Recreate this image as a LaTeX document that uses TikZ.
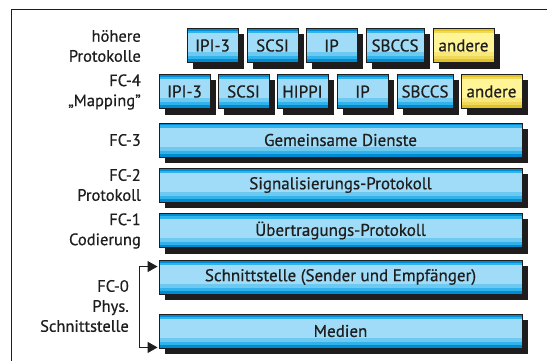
\documentclass[tikz,border=0pt]{standalone}
\usepackage{fontspec}
\setmainfont{PT Sans}[FakeBold=0.6]
\usepackage{tikz}
\usetikzlibrary{shapes,arrows,arrows.meta,positioning,calc}
\definecolor{bluedark}{RGB}{0,140,210}
\definecolor{bluemid}{RGB}{50,178,235}
\definecolor{bluelight}{RGB}{160,220,247}
\definecolor{yellowdark}{RGB}{225,195,40}
\definecolor{yellowlight}{RGB}{255,244,150}
\definecolor{textgray}{RGB}{30,30,30}
\definecolor{shadegray}{RGB}{30,28,28}
% darker bands at the top and the bottom of a box
\newcommand{\barbands}[3]{
  \fill[#1] (path picture bounding box.north west) rectangle ($(path picture bounding box.north east)+(0,2.5)$);
  \fill[#2] ($(path picture bounding box.north west)+(0,2.5)$) rectangle ($(path picture bounding box.north east)+(0,5)$);
  \fill[#3] ($(path picture bounding box.south west)+(0,-10)$) rectangle ($(path picture bounding box.south east)+(0,-6)$);
  \fill[#2] ($(path picture bounding box.south west)+(0,-6)$) rectangle ($(path picture bounding box.south east)+(0,-3)$);
  \fill[#1] ($(path picture bounding box.south west)+(0,-3)$) rectangle (path picture bounding box.south east);}
\tikzstyle{boxbase}=[rectangle, inner sep=0pt, line width=0.9pt, text=textgray, font=\fontsize{17}{19}\selectfont, minimum height=34pt]
\tikzstyle{smallbox}=[boxbase, minimum width=51pt]
\tikzstyle{otherbox}=[boxbase, minimum width=61pt]
\tikzstyle{widebox}=[boxbase, minimum width=363pt]
\tikzstyle{bluefill}=[draw=textgray, fill=bluelight, path picture={\barbands{bluedark}{bluemid}{bluemid!45!bluelight}}]
\tikzstyle{yellowfill}=[draw=textgray, fill=yellowlight, path picture={\barbands{yellowdark}{yellowdark!55!yellowlight}{yellowdark!25!yellowlight}}]
\tikzstyle{boxshade}=[fill=shadegray]
\tikzstyle{layerlabel}=[anchor=east, align=right, inner sep=0pt, text=textgray, font=\fontsize{16.5}{20}\selectfont]
% shadow right of and below a box, drawn next to it
\newcommand{\boxshadow}[1]{
  \fill[boxshade] ($(#1.north east)+(0.4,6)$) rectangle ($(#1.south east)+(6,6)$);
  \fill[boxshade] ($(#1.south west)+(6,0.4)$) rectangle ($(#1.south east)+(6,6)$);}

\begin{document}
\begin{tikzpicture}[x=1pt, y=-1pt]

\useasboundingbox (0,0) rectangle (547,361);
\draw[line width=0.9pt, textgray] (11,361) -- (11,9) -- (547,9);

% upper protocols
\node[smallbox, bluefill] (h1) at (212.5,45.5) {IPI-3};
\node[smallbox, bluefill] (h2) at (272.5,45.5) {SCSI};
\node[smallbox, bluefill] (h3) at (331.5,45.5) {IP};
\node[smallbox, bluefill, minimum width=58pt] (h4) at (395,45.5) {SBCCS};
\node[otherbox, yellowfill] (h5) at (463.5,45.5) {andere};

% FC-4 mapping
\node[smallbox, bluefill] (m1) at (184.5,91.5) {IPI-3};
\node[smallbox, bluefill] (m2) at (243.5,91.5) {SCSI};
\node[smallbox, bluefill] (m3) at (302.5,91.5) {HIPPI};
\node[smallbox, bluefill] (m4) at (362.5,91.5) {IP};
\node[smallbox, bluefill, minimum width=56pt] (m5) at (425,91.5) {SBCCS};
\node[otherbox, yellowfill] (m6) at (491.5,91.5) {andere};

% FC-3 .. FC-0
\node[widebox, bluefill] (fc3) at (340.5,140) {Gemeinsame Dienste};
\node[widebox, bluefill] (fc2) at (340.5,185) {Signalisierungs-Protokoll};
\node[widebox, bluefill] (fc1) at (340.5,230.5) {Übertragungs-Protokoll};
\node[widebox, bluefill] (sch) at (340.5,277) {Schnittstelle (Sender und Empfänger)};
\node[widebox, bluefill] (med) at (340.5,331) {Medien};

\boxshadow{h1}\boxshadow{h2}\boxshadow{h3}\boxshadow{h4}\boxshadow{h5}
\boxshadow{m1}\boxshadow{m2}\boxshadow{m3}\boxshadow{m4}\boxshadow{m5}\boxshadow{m6}
\boxshadow{fc3}\boxshadow{fc2}\boxshadow{fc1}\boxshadow{sch}\boxshadow{med}

% labels
\node[layerlabel] (l1) at (141,46) {höhere\\Protokolle};
\node[layerlabel] (l2) at (141,92) {FC-4\\„Mapping"};
\node[layerlabel] (l3) at (141,140) {FC-3};
\node[layerlabel] (l4) at (141,185) {FC-2\\Protokoll};
\node[layerlabel] (l5) at (141,231) {FC-1\\Codierung};
\node[layerlabel] (l6) at (129,306) {FC-0\\Phys.\\Schnittstelle};

\coordinate (t0) at ($(sch.north west)+(-1,7)$);
\coordinate (b0) at ($(med.south west)+(-1,-1)$);
\draw[line width=0.9pt, textgray, {Triangle[length=10pt,width=11pt]}-{Triangle[length=10pt,width=11pt]}] (t0) -- ++(-18,0) |- (b0);

\end{tikzpicture}
\end{document}
